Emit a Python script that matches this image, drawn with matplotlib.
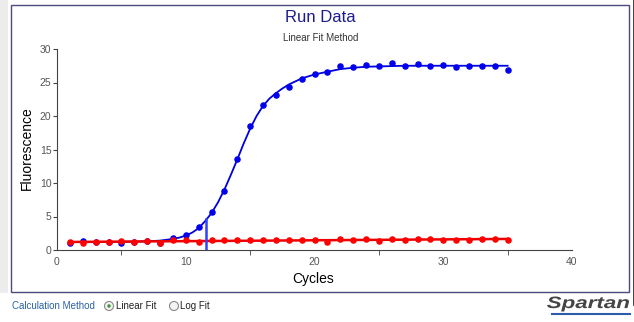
import matplotlib.pyplot as plt
import matplotlib.patches as mpatches
from matplotlib.textpath import TextPath
from matplotlib.font_manager import FontProperties
from matplotlib.transforms import Affine2D

plt.rcParams['font.family'] = ['Liberation Sans', 'DejaVu Sans']

# measured points
cycles = list(range(1, 36))
fam_y = [1.05, 1.35, 1.2, 1.2, 1.05, 1.2, 1.4, 1.1, 1.75, 2.3, 3.4, 5.6, 8.8, 13.6, 18.5,
         21.6, 23.1, 24.4, 25.5, 26.2, 26.6, 27.4, 27.3, 27.6, 27.5, 27.9, 27.5, 27.8, 27.5,
         27.6, 27.3, 27.4, 27.5, 27.4, 26.9]
rox_y = [1.25, 1.05, 1.25, 1.25, 1.35, 1.15, 1.35, 1.05, 1.45, 1.45, 1.25, 1.45, 1.55, 1.45,
         1.45, 1.55, 1.55, 1.55, 1.55, 1.45, 1.25, 1.6, 1.45, 1.7, 1.3, 1.6, 1.55, 1.6, 1.6,
         1.55, 1.55, 1.55, 1.7, 1.7, 1.45]

# fitted curves
fit_x = [1, 2, 3, 4, 5, 6, 7, 8, 9, 9.5, 10, 10.5, 11, 11.5, 12, 12.5, 13, 13.5, 14, 14.5,
         15, 15.5, 16, 16.5, 17, 17.5, 18, 19, 20, 21, 22, 23, 24, 25, 26, 27, 28, 29, 30,
         31, 32, 33, 34, 35]
fit_y = [1.2, 1.2, 1.2, 1.2, 1.22, 1.25, 1.3, 1.4, 1.65, 1.85, 2.15, 2.6, 3.25, 4.3, 5.5,
         7.1, 9.0, 11.2, 13.5, 15.9, 18.1, 20.0, 21.5, 22.6, 23.4, 24.1, 24.7, 25.6, 26.2,
         26.6, 27.0, 27.2, 27.35, 27.4, 27.45, 27.5, 27.5, 27.5, 27.5, 27.5, 27.5, 27.5,
         27.5, 27.5]
rox_fit_x = [1, 35]
rox_fit_y = [1.2, 1.65]
ct_x = 11.55
ct_y = 4.6

fig = plt.figure(figsize=(6.34, 3.22), dpi=100)

# background layer in pixel coordinates
bg = fig.add_axes([0, 0, 1, 1])
bg.set_xlim(0, 634)
bg.set_ylim(322, 0)
bg.axis('off')
bg.add_patch(mpatches.Rectangle((0, 0), 8, 293, color='#ececec', lw=0))
bg.add_patch(mpatches.Rectangle((11, 4.5), 618, 287.5, fill=False, ec='#4b4b7d', lw=1))
bg.plot([633.5, 633.5], [0, 305], color='#222222', lw=1.2)

bg.text(12, 306, 'Calculation Method', color='#2a62a8', fontsize=7, va='center', ha='left')
for cx in [109, 174]:
    bg.add_patch(mpatches.Ellipse((cx, 306), 9, 9, fc='#f4f4f4', ec='#8a8a8a', lw=0.8))
bg.add_patch(mpatches.Ellipse((109, 306), 3.5, 3.5, fc='#3a9a3a', ec='none'))
bg.text(116, 306, 'Linear Fit', color='#222222', fontsize=7, va='center', ha='left')
bg.text(180, 306, 'Log Fit', color='#222222', fontsize=7, va='center', ha='left')

# logo
tp = TextPath((0, 0), 'Spartan', size=1,
              prop=FontProperties(family='Liberation Sans', weight='bold', style='italic'))
ext = tp.get_extents()
sx = 82 / ext.width
sy = 15 / ext.height
tr = Affine2D().translate(-ext.x0, -ext.y1).scale(sx, -sy).translate(547, 296.5)
bg.add_patch(mpatches.PathPatch(tr.transform_path(tp), fc='#454545', ec='none'))
bg.plot([552, 630], [313.5, 313.5], color='#2a5caa', lw=1.5)

fig.text(320 / 634, 1 - 18 / 322, 'Run Data', color='#1c1c8c', fontsize=12,
         ha='center', va='center')
fig.text(321 / 634, 1 - 38 / 322, 'Linear Fit Method', color='#333333', fontsize=7,
         ha='center', va='center')

ax = fig.add_axes([57 / 634, 72 / 322, 515 / 634, 201 / 322])
ax.patch.set_alpha(0)

ax.plot(fit_x, fit_y, color='#0000dd', lw=1.3, zorder=3)
ax.plot(cycles, fam_y, 'o', color='#0000ee', markersize=3.7, zorder=4)
ax.plot(rox_fit_x, rox_fit_y, color='#ee0000', lw=1.8, zorder=5)
ax.plot(cycles, rox_y, 'o', color='#ff0000', markersize=3.7, zorder=6)
ax.plot([ct_x, ct_x], [0, ct_y], color='#3040ff', lw=1.8, zorder=7)

ax.set_xlim(0, 40)
ax.set_ylim(0, 30)
ax.spines['top'].set_visible(False)
ax.spines['right'].set_visible(False)
ax.spines['left'].set_color('#444444')
ax.spines['bottom'].set_color('#444444')

ax.set_xticks([0, 10, 20, 30, 40])
ax.set_xticks([5, 15, 25, 35, 40], minor=True)
ax.tick_params(axis='x', which='major', length=0, pad=5, labelsize=7.5, labelcolor='#555555')
ax.tick_params(axis='x', which='minor', length=3.8, color='#444444')
ax.set_yticks([0, 5, 10, 15, 20, 25, 30])
ax.tick_params(axis='y', length=3, pad=1, labelsize=7.5, labelcolor='#555555', color='#444444')

fig.text(27 / 634, 1 - 148 / 322, 'Fluorescence', fontsize=10, rotation=90,
         ha='center', va='center')
fig.text(313 / 634, 1 - 279 / 322, 'Cycles', fontsize=10, ha='center', va='center')

fig.savefig('out.png', dpi=100)
